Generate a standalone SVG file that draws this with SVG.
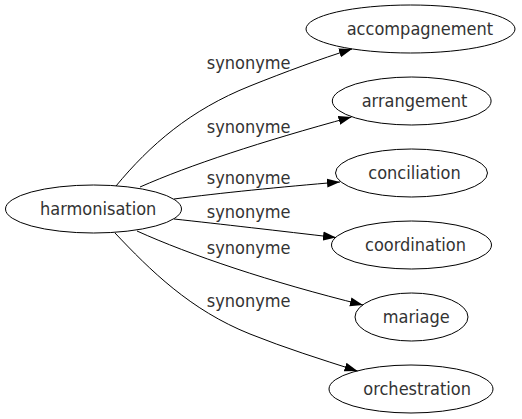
<svg xmlns="http://www.w3.org/2000/svg" width="522" height="419" viewBox="0 0 522 419">
<style>
.node ellipse{fill:none;stroke:#000;stroke-width:1}
text{font-family:"DejaVu Sans Condensed","DejaVu Sans",sans-serif;font-stretch:condensed;font-size:18px;fill:#333}
.edges path{fill:none;stroke:#000;stroke-width:1}
</style>
<defs>
<marker id="arr" markerUnits="userSpaceOnUse" markerWidth="14" markerHeight="10" refX="13" refY="4.5" orient="auto" viewBox="0 0 14 9">
<path d="M0,0 L13,4.5 L0,9 z" fill="#000"/>
</marker>
</defs>
<rect width="522" height="419" fill="#fff"/>
<g id="edges" class="edges">
<path d="M116,186 C150,145 190,110 250,86 C285,72 320,59 352,49" marker-end="url(#arr)"/>
<path d="M140,187 C190,165 260,142 351.5,117" marker-end="url(#arr)"/>
<path d="M174,199 C220,193 280,187 340,182" marker-end="url(#arr)"/>
<path d="M174,219 C220,224 280,231 336,237.5" marker-end="url(#arr)"/>
<path d="M137,231 C190,255 270,282 363,305" marker-end="url(#arr)"/>
<path d="M115,233 C150,270 190,310 250,334 C285,348 320,359 357.5,371" marker-end="url(#arr)"/>
<text x="206.7" y="69">synonyme</text>
<text x="206.7" y="133">synonyme</text>
<text x="206.7" y="183.5">synonyme</text>
<text x="206.7" y="217.5">synonyme</text>
<text x="206.7" y="253.5">synonyme</text>
<text x="206.7" y="306.5">synonyme</text>
</g>
<g id="harmonisation" class="node"><ellipse cx="93.5" cy="209" rx="88" ry="24"/><text x="40" y="214.5">harmonisation</text></g>
<g id="accompagnement" class="node"><ellipse cx="410.5" cy="29" rx="104.5" ry="24"/><text x="346.7" y="34.5">accompagnement</text></g>
<g id="arrangement" class="node"><ellipse cx="411.7" cy="101" rx="79.4" ry="24"/><text x="361.7" y="106.5">arrangement</text></g>
<g id="conciliation" class="node"><ellipse cx="411.5" cy="173" rx="76" ry="24"/><text x="368.3" y="178.5">conciliation</text></g>
<g id="coordination" class="node"><ellipse cx="411.5" cy="245" rx="80" ry="24"/><text x="365" y="250.5">coordination</text></g>
<g id="mariage" class="node"><ellipse cx="411.5" cy="317" rx="56.5" ry="24"/><text x="382.7" y="322.5">mariage</text></g>
<g id="orchestration" class="node"><ellipse cx="411" cy="389" rx="82" ry="24"/><text x="363.3" y="394.5">orchestration</text></g>
</svg>
